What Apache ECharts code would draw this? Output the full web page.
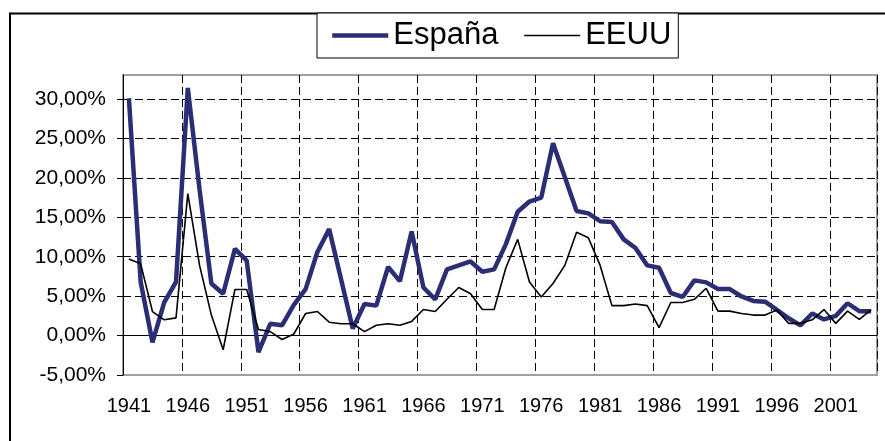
<!DOCTYPE html>
<html>
<head>
<meta charset="utf-8">
<script src="https://cdn.jsdelivr.net/npm/echarts@6/dist/echarts.min.js"></script>
<style>
  html, body { margin: 0; padding: 0; background: #fff; }
  #chart { width: 885px; height: 441px; }
</style>
</head>
<body>
<div id="chart"></div>
<script>
// años 1941-2004
const years = [
  '1941', '1942', '1943', '1944', '1945', '1946', '1947', '1948', '1949', '1950',
  '1951', '1952', '1953', '1954', '1955', '1956', '1957', '1958', '1959', '1960',
  '1961', '1962', '1963', '1964', '1965', '1966', '1967', '1968', '1969', '1970',
  '1971', '1972', '1973', '1974', '1975', '1976', '1977', '1978', '1979', '1980',
  '1981', '1982', '1983', '1984', '1985', '1986', '1987', '1988', '1989', '1990',
  '1991', '1992', '1993', '1994', '1995', '1996', '1997', '1998', '1999', '2000',
  '2001', '2002', '2003', '2004'
]

// inflación (%)
const espana = [
  30.1, 6.8, -0.85, 4.2, 6.8, 31.4, 18.5, 6.6, 5.3, 11.0,
  9.5, -2.1, 1.5, 1.3, 3.9, 5.9, 10.6, 13.5, 7.2, 0.9,
  4.0, 3.8, 8.7, 6.9, 13.2, 6.1, 4.6, 8.4, 8.9, 9.4,
  8.1, 8.4, 11.6, 15.7, 17.0, 17.5, 24.4, 20.1, 15.8, 15.5,
  14.5, 14.4, 12.2, 11.1, 8.9, 8.6, 5.4, 4.9, 7.0, 6.75,
  5.9, 5.9, 4.96, 4.4, 4.3, 3.25, 2.2, 1.3, 2.8, 2.05,
  2.5, 4.1, 3.1, 3.1
]

const eeuu = [
  9.7, 9.1, 3.05, 2.0, 2.25, 18.0, 8.9, 2.6, -1.8, 5.85,
  5.85, 0.76, 0.5, -0.5, 0.2, 2.8, 3.05, 1.7, 1.5, 1.5,
  0.5, 1.3, 1.5, 1.3, 1.8, 3.3, 3.05, 4.6, 6.1, 5.3,
  3.3, 3.3, 8.6, 12.2, 6.8, 4.9, 6.6, 8.9, 13.1, 12.4,
  8.9, 3.8, 3.8, 4.0, 3.8, 1.0, 4.2, 4.2, 4.6, 6.0,
  3.1, 3.1, 2.8, 2.6, 2.6, 3.25, 1.55, 1.55, 2.0, 3.3,
  1.55, 3.1, 2.05, 3.25
]

const font = 'Liberation Sans, Arial, sans-serif'
const dash = [8, 4]

const chart = echarts.init(document.getElementById('chart'), null, { renderer: 'canvas' })
chart.setOption({
  backgroundColor: '#fff',
  animation: false,
  textStyle: { fontFamily: font, color: '#000' },
  graphic: [
    {
      type: 'rect',
      shape: { x: 10, y: 13.5, width: 1000, height: 1000 },
      style: { fill: null, stroke: '#000', lineWidth: 2 },
      z: -10,
      silent: true,
    },
  ],
  legend: {
    left: 317,
    top: 13,
    padding: [7, 7, 7, 13],
    itemGap: 25,
    itemWidth: 56,
    itemHeight: 30,
    itemStyle: { opacity: 0 },
    backgroundColor: '#fff',
    borderColor: '#000',
    borderWidth: 1,
    textStyle: { fontFamily: font, fontSize: 31, color: '#000' },
    data: [
      { name: 'España', lineStyle: { width: 4.5, color: '#2b2e75' } },
      { name: 'EEUU', lineStyle: { width: 1.6, color: '#000' } },
    ],
  },
  grid: {
    left: 123,
    right: 8,
    top: 75,
    bottom: 66,
    show: true,
    borderColor: '#a0a0a0',
    borderWidth: 2,
    backgroundColor: '#fff',
  },
  xAxis: [
    {
      type: 'category',
      data: years,
      boundaryGap: true,
      axisLine: { show: false, onZero: false },
      axisTick: { show: false, interval: 4 },
      axisLabel: { interval: 4, margin: 21, fontSize: 20, color: '#000', fontFamily: font },
      splitLine: { show: true, interval: 4, lineStyle: { color: '#000', width: 1, type: dash } },
    },
    {
      type: 'category',
      data: years,
      position: 'top',
      axisLine: { show: true, onZero: true, lineStyle: { color: '#000', width: 1 } },
      axisTick: { show: false },
      axisLabel: { show: false },
      splitLine: { show: false },
    },
  ],
  yAxis: {
    type: 'value',
    min: -5,
    max: 33.05,
    interval: 5,
    axisLine: { show: true, lineStyle: { color: '#000', width: 1 } },
    axisTick: { show: true, length: 6, lineStyle: { color: '#000' } },
    axisLabel: {
      margin: 17,
      fontSize: 21,
      color: '#000',
      fontFamily: font,
      showMaxLabel: false,
      formatter: (v) => v.toFixed(2).replace('.', ',') + '%',
    },
    splitLine: {
      show: true,
      showMinLine: false,
      showMaxLine: false,
      lineStyle: { color: '#000', width: 1, type: dash },
    },
  },
  series: [
    {
      name: 'España',
      type: 'line',
      data: espana,
      symbol: 'none',
      z: 4,
      lineStyle: { color: '#2b2e75', width: 4.5 },
      itemStyle: { color: '#2b2e75' },
    },
    {
      name: 'EEUU',
      type: 'line',
      data: eeuu,
      symbol: 'none',
      z: 5,
      lineStyle: { color: '#000', width: 1.6 },
      itemStyle: { color: '#000' },
    },
  ],
})
</script>
</body>
</html>
